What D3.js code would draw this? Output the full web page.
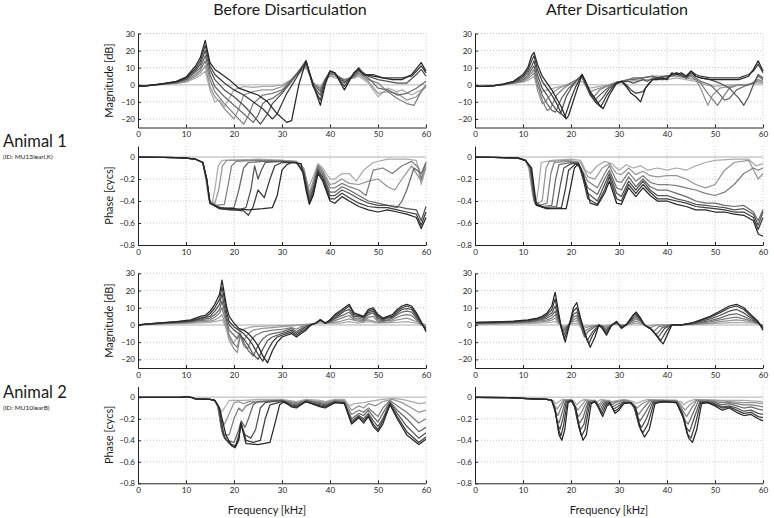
<!DOCTYPE html>
<html lang="en">
<head>
<meta charset="UTF-8">
<title>Before / After Disarticulation</title>
<script src="https://d3js.org/d3.v7.min.js"></script>
<style>
  body { margin: 0; background: #fff; }
  svg text { font-family: Lato, "Open Sans", "DejaVu Sans", sans-serif; fill: #1a1a1a; }
  .grid line { stroke: #b8b8b8; stroke-width: 0.8; stroke-dasharray: 1,2; }
  .axis path, .axis line { stroke: #222; stroke-width: 1; }
  .axis text { font-size: 8px; }
</style>
</head>
<body>
<svg id="chart" width="774" height="518"></svg>
<script>
// ---- labels / ticks ----
const columnTitles = ["Before Disarticulation", "After Disarticulation"];
const animalNames = ["Animal 1", "Animal 2"];
const animalIds = ["(ID: MU13leari,K)", "(ID: MU10learB)"];
const freqTicks = [0, 10, 20, 30, 40, 50, 60];
const magTicks = [30, 20, 10, 0, -10, -20];
const phaseTicks = [0, -0.2, -0.4, -0.6, -0.8];

// ---- curves: [kHz, value], darkest first ----
const a1BeforeMag = [
  [[0,-1],[2,-0.5],[5,0.5],[8,2],[10,4.5],[12,11],[13,16],[14,26],[15,13],[16,9],[17,7],[19,3],[21,-2],[23,-4],[25,-6],[27,-10],[29,-17],[31,-22],[32,-21],[33.5,0],[35,14],[36.5,0],[38,-12],[39,0],[40,8],[41,7],[43,-3],[45,7],[46,9],[47,6],[49,5],[51,4],[53,3],[55,3],[57,6],[59,13],[60,8]],
  [[0,-1],[2,-0.5],[5,0.5],[8,1.8],[10,4],[12,9.5],[13,14],[14,23],[15,11],[16,6],[18,1],[20,-3],[22,-6],[24,-10],[26,-14],[28,-20],[29,-17],[31,-5],[33,4],[35,14],[36.5,-1],[38,-9],[39,2],[40,8],[41,7],[43,-1],[45,7],[46,10],[47,6],[49,6],[51,4],[53,4],[55,4],[57,5],[59,11],[60,7]],
  [[0,-1],[2,-0.5],[5,0.5],[8,1.5],[10,3.5],[12,8.5],[13,12],[14,20],[15,9],[16,3],[18,-3],[20,-7],[22,-12],[24,-18],[25.5,-23],[27,-17],[28,-11],[30,-5],[32,2],[35,14],[36.5,-1],[38,-6],[39,3],[40,8],[41,7],[43,1],[45,6],[46,9],[48,5],[50,3],[52,2],[54,1],[56,1],[58,6],[59,9],[60,5]],
  [[0,-1],[2,-0.5],[5,0.4],[8,1.3],[10,3],[12,7.5],[13,10],[14,17],[15,6],[16,-1],[18,-7],[20,-12],[22,-17],[24,-22],[25,-18],[26,-11],[27,-9],[28,-8],[30,-4],[32,3],[35,13],[36.5,0],[38,-4],[39,3],[40,7],[41,6],[43,2],[45,5],[46,8],[48,4],[50,-2],[52,-3],[54,-6],[56,-5],[58,-2],[60,2]],
  [[0,-1],[2,-0.5],[5,0.3],[8,1.1],[10,2.5],[12,6],[13,8.5],[14,14],[15,3],[16,-4],[18,-11],[20,-17],[22,-23],[23,-18],[24,-11],[26,-6],[28,-5],[30,-3],[32,3],[35,12],[36.5,1],[38,-3],[39,3],[40,6],[41,6],[43,3],[45,5],[46,7],[48,3],[50,1],[52,-4],[54,-8],[56,-11],[57.5,-12],[59,-4],[60,0]],
  [[0,-1],[2,-0.5],[5,0.3],[8,1],[10,2],[12,5],[13,7],[14,11],[15,-1],[16,-7],[17,-10],[18,-14],[20,-20],[21,-14],[22,-6],[24,-4],[26,-3],[28,-3],[30,-1],[32,3],[35,11],[36.5,1],[38,-2],[39,3],[40,5],[41,5],[43,3],[45,4],[46,6],[48,2],[50,-5],[52,-4],[54,-5],[56,-9],[58,-7],[60,-1]],
  [[0,-1],[2,-0.5],[5,0.2],[8,0.8],[10,1.5],[12,4],[13,5.5],[14,8],[15,-3],[16,-10],[17,-9],[18,-13],[19,-8],[20,-3],[22,-1],[24,-1.5],[26,-1],[28,-1],[30,0],[32,3],[35,10],[36.5,1],[38,-1],[39,3],[40,5],[41,4],[43,3],[45,4],[46,5],[48,1],[50,-7],[52,-2],[54,-4],[55,-3],[57,-6],[59,-3],[60,-1]]
];

const a1BeforePhaseStart = [[0,0],[8,-0.005],[10,-0.01],[12,-0.02],[13.5,-0.05]];
const a1BeforePhase = [
  [...a1BeforePhaseStart,[14.3,-0.2],[15,-0.42],[17,-0.46],[20,-0.47],[23,-0.48],[26,-0.47],[28,-0.46],[29,-0.35],[30,-0.12],[31,-0.07],[32,-0.05],[34,-0.06],[35,-0.3],[35.7,-0.43],[36.5,-0.35],[37.5,-0.15],[38.5,-0.22],[40,-0.4],[41,-0.42],[42.5,-0.36],[44,-0.4],[46,-0.45],[48,-0.48],[50,-0.5],[52,-0.48],[54,-0.5],[56,-0.52],[58,-0.55],[59,-0.65],[60,-0.55]],
  [...a1BeforePhaseStart,[14.3,-0.2],[15,-0.42],[17,-0.47],[20,-0.48],[22,-0.49],[23,-0.53],[24,-0.45],[25,-0.3],[26.3,-0.37],[27.5,-0.2],[28.5,-0.08],[30,-0.05],[33,-0.05],[34.5,-0.15],[35.7,-0.42],[36.5,-0.33],[37.5,-0.13],[38.5,-0.2],[40,-0.38],[41,-0.38],[42.5,-0.33],[44,-0.37],[46,-0.42],[48,-0.45],[50,-0.46],[52,-0.46],[54,-0.48],[56,-0.5],[58,-0.52],[59,-0.62],[60,-0.5]],
  [...a1BeforePhaseStart,[14.3,-0.2],[15,-0.42],[17,-0.47],[19,-0.48],[21,-0.48],[22.5,-0.46],[23.5,-0.3],[24.3,-0.08],[25,-0.2],[25.7,-0.12],[26.5,-0.05],[30,-0.04],[33,-0.05],[34.5,-0.14],[35.7,-0.4],[36.5,-0.3],[37.5,-0.12],[38.5,-0.18],[40,-0.35],[41,-0.35],[42.5,-0.3],[44,-0.33],[46,-0.38],[48,-0.42],[50,-0.44],[52,-0.44],[54,-0.45],[56,-0.47],[58,-0.48],[59,-0.58],[60,-0.45]],
  [...a1BeforePhaseStart,[14.3,-0.2],[15,-0.42],[16.5,-0.45],[18,-0.47],[20,-0.46],[21,-0.3],[22,-0.1],[23,-0.05],[26,-0.04],[30,-0.04],[33,-0.05],[34.5,-0.13],[35.7,-0.38],[36.5,-0.28],[37.5,-0.1],[38.5,-0.16],[40,-0.32],[41,-0.32],[42.5,-0.27],[44,-0.3],[46,-0.35],[48,-0.4],[50,-0.42],[52,-0.44],[54,-0.46],[55,-0.4],[56,-0.3],[57.5,-0.1],[59,-0.15],[60,-0.05]],
  [...a1BeforePhaseStart,[14.3,-0.2],[15,-0.41],[16.5,-0.44],[18,-0.43],[18.8,-0.25],[19.5,-0.08],[20.5,-0.04],[25,-0.03],[30,-0.04],[33,-0.05],[34.5,-0.12],[35.7,-0.35],[36.5,-0.25],[37.5,-0.08],[38.5,-0.14],[40,-0.28],[41,-0.28],[42.5,-0.24],[44,-0.27],[46,-0.3],[47.5,-0.35],[49,-0.12],[51,-0.1],[53,-0.15],[55,-0.08],[57,-0.04],[58.5,-0.1],[59,-0.2],[60,-0.05]],
  [...a1BeforePhaseStart,[14.2,-0.2],[14.9,-0.41],[16,-0.42],[16.8,-0.3],[17.6,-0.08],[18.5,-0.03],[25,-0.03],[30,-0.03],[33,-0.04],[34.5,-0.1],[35.7,-0.32],[36.5,-0.22],[37.5,-0.07],[38.5,-0.12],[40,-0.25],[41,-0.24],[42.5,-0.2],[44,-0.24],[46,-0.25],[48,-0.22],[50,-0.2],[52,-0.27],[53.5,-0.3],[55,-0.2],[57,-0.08],[59,-0.22],[60,-0.1]],
  [...a1BeforePhaseStart,[14.1,-0.2],[14.8,-0.4],[15.5,-0.41],[16,-0.3],[16.7,-0.08],[17.5,-0.03],[25,-0.02],[30,-0.03],[33,-0.04],[34.5,-0.1],[35.5,-0.28],[36.5,-0.18],[37.5,-0.06],[38.5,-0.1],[40,-0.2],[41,-0.2],[42.5,-0.15],[44,-0.15],[45.5,-0.22],[47,-0.12],[49,-0.05],[52,-0.02],[56,-0.02],[58,-0.03],[59,-0.25],[60,-0.08]]
];

const a1AfterMag = [
  [[0,-1],[2,-1],[4,-0.5],[6,0.5],[8,2],[10,6],[11,10],[11.8,17],[12.3,19],[13,12],[14,5],[15,1],[16,-3],[17,-8],[18,-13],[19,-20],[19.5,-18],[21,-5],[22.3,6],[23,2],[24,-4],[25,-8],[26,-12],[26.7,-14],[28,-6],[29.5,1],[30.5,2],[31.5,-1],[32.5,-5],[33.5,-7],[34.5,-10],[35.5,-2],[37,3],[38,3],[39,4],[40,3],[41,7],[42,6],[43,7],[44,5],[45,8],[46,5],[47,4],[49,3],[51,3],[53,3],[55,3],[57,5],[58,9],[59,14],[60,8]],
  [[0,-1],[2,-1],[4,-0.5],[6,0.4],[8,1.8],[10,5],[11,8.5],[11.8,14],[12.3,17],[13,9],[14,2],[15,-2],[16,-6],[17,-11],[18,-17],[18.7,-19],[20,-8],[21,-1],[22.3,6],[23,2],[24,-5],[25,-10],[26.2,-13],[27.5,-6],[29,0],[30.5,2],[31.5,0],[32.5,-3],[33.5,-5],[35,-4],[36,0],[37,3],[38,4],[39,3],[40,4],[41,6],[42,7],[43,6],[44,5],[45,8],[46,6],[47,5],[49,4],[51,4],[53,4],[55,4],[57,6],[58,8],[59,12],[60,7]],
  [[0,-1],[2,-1],[4,-0.5],[6,0.3],[8,1.5],[10,4],[11,7],[11.8,11],[12.3,14],[13,6],[14,-2],[15,-6],[16,-11],[17,-15],[17.8,-17],[19,-7],[20,-2],[21,2],[22.3,6],[23,1],[24,-6],[25.5,-11],[26.5,-8],[28,-2],[29.5,1],[30.5,2],[32,2],[33,1],[35,3],[36,2],[37,4],[38,4],[40,5],[41,6],[42,7],[44,4],[45,7],[46,5],[47,4],[49,3],[51,1],[53,-2],[55,-8],[56,-12],[57,-7],[58,0],[59,6],[60,4]],
  [[0,-1],[2,-1],[4,-0.5],[6,0.2],[8,1.3],[10,3],[11,5.5],[11.8,9],[12.3,11],[13,3],[14,-6],[15,-11],[16,-15],[16.8,-16],[18,-8],[19.5,-2],[21,2],[22.3,5.5],[23,0],[24,-6],[25,-9],[26,-6],[28,-1],[29.5,1.5],[30.5,2],[32,3],[33,3],[35,4],[37,5],[38,4],[40,5],[41,5],[42,6],[44,4],[45,6],[46,4],[47,2],[49,0],[50.5,-4],[52,-9],[53,-8],[54.5,-3],[56,-1],[58,1],[59,5],[60,3]],
  [[0,-1],[2,-1],[4,-0.5],[6,0.2],[8,1.1],[10,2.5],[11,4.5],[11.8,7],[12.3,9],[13,0],[14,-9],[15,-15],[15.7,-14],[17,-6],[18.5,-2],[20,1],[22.3,5],[23,0],[24,-5],[24.8,-7],[26,-3],[28,0],[29.5,1.5],[30.5,2],[32,3],[33,4],[35,4],[37,5],[38,4],[40,5],[42,6],[44,4],[45,5],[46,3],[47,1],[48.5,-5],[50.5,-12],[51.5,-8],[53,-2],[55,0],[57,0],[59,3],[60,2]],
  [[0,-1],[2,-1],[4,-0.5],[6,0.1],[8,1],[10,2],[11,3.5],[11.8,5.5],[12.3,7],[13,-3],[14,-11],[14.6,-10],[16,-5],[17.5,-2],[19,0],[22.3,4],[23,0],[24,-4],[25,-3],[27,-1],[29.5,1],[30.5,2],[32,3],[33,4],[35,4],[37,5],[40,5],[42,5],[44,4],[46,3],[47,-2],[48.5,-12],[49.5,-6],[51,-2],[53,-1],[55,0],[57,0],[59,2],[60,1]],
  [[0,-1],[2,-1],[4,-0.5],[6,0],[8,0.8],[10,1.5],[11,2.5],[11.8,4],[12.3,5],[13,-1],[14,-4],[15,-3],[17,-1.5],[19,-0.5],[22.3,2],[23,0],[24,-2],[26,-1],[28,0],[30,1],[32,2],[35,3],[37,3],[40,3],[42,4],[44,3],[46,2],[48,0],[50,-1],[53,0],[56,0],[58,1],[60,1]]
];

const a1AfterPhaseStart = [[0,0],[6,-0.005],[9,-0.01],[10.5,-0.03]];
const a1AfterPhase = [
  [...a1AfterPhaseStart,[11.8,-0.1],[12.8,-0.44],[15,-0.47],[19,-0.47],[19.8,-0.3],[20.7,-0.1],[21.5,-0.06],[22.5,-0.15],[24,-0.42],[25.5,-0.44],[27,-0.33],[28,-0.22],[29.5,-0.42],[30.5,-0.43],[32,-0.28],[33.5,-0.36],[35,-0.28],[36.5,-0.35],[38,-0.4],[40,-0.4],[42,-0.43],[44,-0.45],[46,-0.48],[48,-0.48],[50,-0.5],[52,-0.5],[54,-0.52],[56,-0.53],[58,-0.58],[59,-0.7],[60,-0.72]],
  [...a1AfterPhaseStart,[11.7,-0.1],[12.6,-0.43],[15,-0.47],[18,-0.46],[18.8,-0.3],[19.5,-0.12],[21,-0.06],[22,-0.1],[23.5,-0.38],[25.5,-0.43],[27,-0.3],[28,-0.18],[29.5,-0.38],[30.5,-0.4],[32,-0.25],[33.5,-0.33],[35,-0.25],[36.5,-0.32],[38,-0.38],[40,-0.38],[42,-0.4],[44,-0.42],[46,-0.45],[48,-0.46],[50,-0.47],[52,-0.48],[54,-0.5],[56,-0.5],[58,-0.55],[59,-0.66],[60,-0.55]],
  [...a1AfterPhaseStart,[11.6,-0.1],[12.5,-0.42],[14.5,-0.46],[17,-0.45],[17.8,-0.25],[18.5,-0.1],[20,-0.06],[21.5,-0.06],[23.5,-0.33],[25.5,-0.4],[27,-0.25],[28,-0.15],[29.5,-0.33],[30.5,-0.36],[32,-0.22],[33.5,-0.3],[35,-0.22],[36.5,-0.3],[38,-0.35],[40,-0.35],[42,-0.38],[44,-0.4],[46,-0.43],[48,-0.44],[50,-0.45],[52,-0.46],[54,-0.48],[56,-0.47],[58,-0.52],[59,-0.62],[60,-0.5]],
  [...a1AfterPhaseStart,[11.5,-0.1],[12.4,-0.4],[14,-0.45],[16,-0.44],[16.8,-0.2],[17.5,-0.07],[20,-0.05],[21.5,-0.05],[23.5,-0.28],[25.5,-0.34],[27,-0.2],[28,-0.12],[29.5,-0.28],[30.5,-0.3],[32,-0.18],[33.5,-0.27],[35,-0.2],[36.5,-0.27],[38,-0.3],[40,-0.3],[42,-0.33],[44,-0.36],[46,-0.4],[48,-0.42],[50,-0.42],[52,-0.44],[54,-0.45],[56,-0.44],[58,-0.5],[59,-0.58],[60,-0.48]],
  [...a1AfterPhaseStart,[11.4,-0.1],[12.3,-0.4],[13.5,-0.44],[15,-0.42],[15.8,-0.15],[16.5,-0.05],[20,-0.04],[21.5,-0.05],[23.5,-0.22],[25.5,-0.28],[27,-0.15],[28,-0.08],[29.5,-0.22],[30.5,-0.23],[32,-0.14],[33.5,-0.22],[35,-0.17],[36.5,-0.23],[38,-0.25],[40,-0.25],[42,-0.26],[44,-0.28],[46,-0.3],[48,-0.33],[50,-0.35],[52,-0.32],[54,-0.25],[56,-0.15],[58,-0.1],[59,-0.12],[60,-0.1]],
  [...a1AfterPhaseStart,[11.3,-0.1],[12.2,-0.38],[13,-0.42],[14,-0.4],[14.8,-0.1],[15.5,-0.04],[19,-0.03],[21,-0.04],[22,-0.05],[23.5,-0.18],[25,-0.2],[26.5,-0.1],[28,-0.06],[29.5,-0.15],[30.5,-0.16],[32,-0.1],[33.5,-0.16],[35,-0.13],[36.5,-0.17],[38,-0.18],[40,-0.17],[42,-0.17],[44,-0.2],[46,-0.25],[48,-0.28],[50,-0.25],[52,-0.12],[54,-0.05],[57,-0.03],[59,-0.2],[60,-0.15]],
  [...a1AfterPhaseStart,[11.2,-0.1],[12,-0.35],[12.8,-0.4],[13.3,-0.25],[13.8,-0.05],[16,-0.03],[20,-0.02],[22,-0.03],[23,-0.12],[24,-0.15],[25.5,-0.08],[27,-0.04],[28.5,-0.06],[30,-0.12],[31.5,-0.07],[33,-0.1],[34.5,-0.08],[36,-0.12],[38,-0.1],[40,-0.12],[42,-0.1],[44,-0.12],[46,-0.08],[48,-0.05],[50,-0.03],[54,-0.02],[57,-0.02],[58.5,-0.08],[60,-0.06]]
];

const a2BeforeMag = [
  [[0,0],[4,1],[8,2],[11,3],[13,5],[14,5.5],[15,8],[16,12],[17,18],[17.5,26],[18,18],[18.5,10],[19,5],[20,1],[21,-2],[22,-3],[23,-5],[24,-8],[25,-12],[26,-18],[27,-22],[28,-15],[29,-10],[30,-7],[31,-6],[32,-5],[33,-7],[34,-5],[35,-3],[36,0],[37,1],[38,3],[39,1],[40,3],[41,6],[42,8],[43,10],[44,12],[45,7],[46,6],[47,5],[48,9],[49,10],[50,6],[51,4],[52,5],[53,6],[54,9],[55,11],[56,12],[57,11],[58,7],[59,2],[60,-4]],
  [[0,0],[4,1],[8,1.8],[11,2.5],[13,4],[14,4.5],[15,6.5],[16,10],[17,15],[17.5,22],[18,15],[18.5,7],[19,2],[20,-1],[21,-3],[22,-5],[23,-8],[24,-12],[25,-17],[26,-21],[27,-15],[28,-10],[29,-7],[30,-6],[31,-5],[32,-4],[33,-6],[34,-4],[35,-2],[36,0],[37,1],[38,3],[39,1],[40,2.5],[41,5],[42,7],[43,9],[44,11],[45,6],[46,5.5],[47,4.5],[48,8],[49,9],[50,5],[51,3.5],[52,4.5],[53,5],[54,8],[55,10],[56,11],[57,10],[58,6],[59,1],[60,-3]],
  [[0,0],[4,0.9],[8,1.6],[11,2.2],[13,3.5],[15,5],[16,8],[17,12],[17.5,18],[18,11],[18.5,4],[19,0],[20,-3],[21,-5],[22,-8],[23,-12],[24,-17],[25,-20],[26,-14],[27,-9],[28,-7],[29,-6],[30,-5],[31,-4],[32,-3],[33,-5],[34,-3],[35,-1],[36,0],[37,1],[38,3],[39,1],[40,2],[41,4],[42,6],[43,8],[44,9],[45,5],[46,5],[47,4],[48,7],[49,8],[50,4],[51,3],[52,4],[53,4.5],[54,7],[55,9],[56,9.5],[57,9],[58,5],[59,1],[60,-2]],
  [[0,0],[4,0.8],[8,1.4],[11,2],[13,3],[15,4],[16,6],[17,9],[17.5,14],[18,8],[18.5,2],[19,-3],[20,-6],[20.7,-8],[21.3,-5],[22,-10],[23,-15],[24,-18],[25,-12],[26,-8],[27,-6],[28,-5],[30,-4],[32,-2],[33,-4],[34,-2],[35,-1],[36,0],[37,1],[38,3],[39,1],[40,2],[41,3.5],[42,5],[43,6],[44,7.5],[45,4],[46,4],[47,3],[48,6],[49,7],[50,3],[51,2.5],[52,3],[53,4],[54,6],[55,7.5],[56,8],[57,7.5],[58,4],[59,0.5],[60,-2]],
  [[0,0],[4,0.7],[8,1.2],[11,1.7],[13,2.5],[15,3],[16,4.5],[17,7],[17.5,10],[18,5],[18.5,0],[19,-6],[20,-11],[20.7,-13],[21.3,-6],[22,-12],[22.8,-14],[23.5,-9],[24.5,-6],[26,-4],[28,-3],[30,-2.5],[32,-1.5],[33,-2.5],[34,-1],[36,0],[37,1],[38,2.5],[39,1],[40,1.5],[41,2.5],[42,3.5],[43,4.5],[44,5.5],[45,3],[46,3],[47,2],[48,4.5],[49,5],[50,2],[51,2],[52,2.5],[53,3],[54,4.5],[55,5.5],[56,6],[57,5.5],[58,3],[59,0],[60,-1]],
  [[0,0],[4,0.6],[8,1],[11,1.4],[13,2],[15,2.2],[16,3],[17,4.5],[17.5,6],[18,2],[18.5,-3],[19,-9],[20,-14],[20.7,-16],[21.3,-6],[22,-9],[23,-5],[24,-3],[26,-2],[28,-1.5],[30,-1],[32,-0.5],[34,0],[36,0.5],[38,2],[40,1],[42,2],[44,3.5],[46,2],[48,3],[50,1.5],[52,1.5],[54,3],[56,4],[58,2],[60,0]],
  [[0,0],[4,0.5],[8,0.8],[11,1],[13,1.2],[15,1.5],[16,2],[17,2.5],[17.5,3],[18,0.5],[18.5,-3],[19,-7],[19.7,-11],[20.3,-9],[21,-5],[21.5,-3],[22.5,-2],[24,-1],[28,-0.5],[34,0],[38,1],[42,1],[44,2],[46,1],[48,2],[50,1],[54,1.5],[56,2],[58,1],[60,0]]
];

const a2BeforePhaseStart = [[0,0],[9,0],[10,0.006],[11,0],[12,-0.015],[15,-0.02],[16,-0.03]];
const a2BeforePhase = [
  [...a2BeforePhaseStart,[17,-0.1],[18.3,-0.35],[19.5,-0.45],[20.2,-0.47],[21,-0.4],[21.4,-0.24],[22.5,-0.43],[25,-0.44],[27.5,-0.42],[28.5,-0.25],[29.5,-0.07],[30.5,-0.04],[32,-0.09],[33,-0.1],[35,-0.04],[38,-0.09],[39,-0.1],[41,-0.05],[43,-0.06],[44.5,-0.25],[46,-0.19],[47,-0.24],[48,-0.18],[49,-0.27],[50,-0.32],[51,-0.25],[52.5,-0.07],[54,-0.2],[56,-0.35],[58.5,-0.44],[60,-0.39]],
  [...a2BeforePhaseStart,[16.9,-0.1],[18,-0.38],[19.5,-0.45],[20.3,-0.46],[21,-0.38],[21.5,-0.24],[22.5,-0.4],[24,-0.42],[25.5,-0.4],[26.5,-0.2],[27.5,-0.07],[30,-0.04],[32,-0.08],[33,-0.09],[35,-0.04],[38,-0.08],[39,-0.09],[41,-0.05],[43,-0.05],[44.5,-0.24],[46,-0.18],[47,-0.22],[48,-0.17],[49,-0.25],[50,-0.3],[51,-0.22],[52.5,-0.06],[54,-0.18],[56,-0.32],[58.5,-0.42],[60,-0.37]],
  [...a2BeforePhaseStart,[16.8,-0.09],[17.7,-0.35],[19,-0.43],[20.3,-0.45],[21,-0.35],[21.5,-0.25],[22.3,-0.35],[23.5,-0.38],[24.5,-0.3],[25.5,-0.1],[26.5,-0.05],[30,-0.03],[32,-0.07],[33,-0.08],[35,-0.04],[38,-0.07],[39,-0.08],[41,-0.04],[43,-0.05],[44.5,-0.22],[46,-0.17],[47,-0.2],[48,-0.15],[49,-0.22],[50,-0.27],[51,-0.2],[52.5,-0.05],[54,-0.15],[56,-0.27],[58.5,-0.38],[60,-0.33]],
  [...a2BeforePhaseStart,[16.7,-0.08],[17.5,-0.32],[18.5,-0.4],[20,-0.42],[21,-0.3],[21.5,-0.22],[22.3,-0.28],[23,-0.2],[24,-0.07],[25,-0.04],[30,-0.03],[32,-0.06],[33,-0.07],[35,-0.03],[38,-0.06],[39,-0.07],[41,-0.04],[43,-0.05],[44.5,-0.2],[46,-0.15],[47,-0.17],[48,-0.12],[49,-0.18],[50,-0.23],[51,-0.15],[52.5,-0.04],[54,-0.12],[56,-0.2],[58.5,-0.32],[60,-0.28]],
  [...a2BeforePhaseStart,[16.6,-0.08],[17.3,-0.28],[18,-0.35],[19,-0.35],[20,-0.2],[21,-0.1],[21.7,-0.13],[22.5,-0.08],[24,-0.05],[30,-0.03],[32,-0.05],[33,-0.06],[35,-0.03],[38,-0.05],[39,-0.06],[41,-0.03],[43,-0.04],[44.5,-0.16],[46,-0.12],[47,-0.14],[48,-0.1],[49,-0.14],[50,-0.18],[51,-0.1],[52.5,-0.03],[54,-0.08],[56,-0.14],[58.5,-0.24],[60,-0.2]],
  [...a2BeforePhaseStart,[16.5,-0.07],[17.2,-0.2],[18,-0.25],[19,-0.15],[20,-0.05],[21,-0.04],[22,-0.06],[23,-0.04],[30,-0.03],[32,-0.04],[33,-0.05],[35,-0.03],[38,-0.04],[39,-0.05],[41,-0.03],[43,-0.03],[44.5,-0.12],[46,-0.08],[47,-0.1],[48,-0.06],[49.5,-0.08],[51,-0.04],[53,-0.02],[55,-0.05],[57,-0.1],[58.5,-0.14],[60,-0.12]],
  [...a2BeforePhaseStart,[16.5,-0.06],[17.3,-0.14],[18,-0.1],[19,-0.03],[22,-0.03],[25,-0.02],[30,-0.02],[33,-0.04],[35,-0.02],[38,-0.03],[39,-0.04],[41,-0.02],[43,-0.02],[44,-0.08],[45,-0.06],[47,-0.05],[48,-0.04],[49.5,-0.03],[51,-0.02],[53,-0.01],[55,-0.02],[57,-0.04],[58.5,-0.06],[60,-0.05]]
];

const a2AfterMag = [
  [[0,1.5],[4,1.8],[8,2.2],[11,3],[13,4],[14,5],[15,7],[16,11],[16.7,19],[17.3,9],[18,-2],[18.8,-10],[19.5,-2],[20.5,10],[21.2,13],[22,4],[23,-6],[24,-13],[25,-7],[25.8,0],[26.5,-2],[27.4,-6],[28.5,0],[29.5,2],[30.5,-2],[31.5,0],[33,6],[33.6,7.5],[34.5,4],[35.3,0],[36.5,-2],[37.5,-5],[38.5,-9],[39.2,-11],[40.5,-3],[41,0],[43,0],[45,1],[47,3],[49,5],[51,8],[53,11],[54.5,12],[56,10],[57.5,6],[59,2],[60,-3]],
  [[0,1.4],[4,1.6],[8,2],[11,2.7],[13,3.6],[14,4.3],[15,6],[16,9],[16.7,15],[17.3,7],[18,-2],[18.6,-8],[19.5,-1],[20.5,8],[21.2,10],[22,3],[23,-6],[23.7,-11],[24.5,-6],[25.8,0],[26.5,-1.5],[27.3,-5],[28.5,0],[29.5,2],[30.5,-1.5],[31.5,0],[33,5.5],[33.6,6.5],[34.5,3.5],[35.3,0],[36.5,-2],[37.5,-5],[38.7,-9],[40,-3],[41,0],[43,0],[45,1],[47,2.5],[49,4.5],[51,7],[53,10],[54.5,11],[56,9],[57.5,5],[59,1.5],[60,-2]],
  [[0,1.2],[4,1.4],[8,1.8],[11,2.4],[13,3.2],[14,3.7],[15,5],[16,7],[16.7,11],[17.3,5],[18,-1.5],[18.5,-6],[19.5,0],[20.5,6],[21.2,7.5],[22,2],[23,-6],[23.4,-9],[24.5,-4],[25.8,0],[26.5,-1],[27.2,-4],[28.5,0],[29.5,1.5],[30.5,-1],[31.5,0],[33,4.5],[33.6,5.5],[34.5,3],[35.3,0],[36.5,-2],[37.5,-5],[38.2,-7],[39.5,-2],[41,0],[43,0],[45,0.8],[47,2],[49,3.5],[51,5.5],[53,8],[54.5,9],[56,7],[57.5,4],[59,1],[60,-1.5]],
  [[0,1],[4,1.2],[8,1.5],[11,2],[13,2.7],[14,3.2],[15,4],[16,5.5],[16.7,8],[17.3,3.5],[18,-1],[18.4,-4],[19.5,0],[20.5,4.5],[21.2,5.5],[22,1],[22.8,-7],[23.5,-4],[25,-1],[25.8,0],[26.5,-0.8],[27.2,-3],[28.5,0],[29.5,1.2],[30.5,-0.8],[31.5,0],[33,3.5],[33.6,4.5],[34.5,2.5],[35.3,0],[36.5,-2],[37.5,-5],[38,-5],[39,-1.5],[41,0],[43,0],[45,0.6],[47,1.5],[49,2.5],[51,4],[53,6],[54.5,6.5],[56,5],[57.5,3],[59,1],[60,-1]],
  [[0,0.8],[4,1],[8,1.2],[11,1.6],[13,2.2],[14,2.5],[15,3],[16,4],[16.7,6],[17.3,2.5],[18,-0.5],[18.4,-3],[19.5,0],[20.5,3],[21.2,4],[22,0],[22.5,-5],[23.2,-3],[25,-0.5],[26.5,-0.5],[27.2,-2],[28.5,0],[29.5,1],[30.5,-0.5],[31.5,0],[33,2.5],[33.6,3.5],[34.5,2],[35.3,0],[36.5,-2],[37.3,-3.5],[38.3,-1],[41,0],[45,0.4],[49,1.8],[51,3],[53,4],[54.5,4.5],[56,3.5],[58,2],[60,-0.5]],
  [[0,0.6],[4,0.8],[8,1],[11,1.3],[13,1.7],[15,2.2],[16,2.8],[16.7,4],[17.3,1.5],[18,0],[18.4,-2],[19.5,0],[20.5,2],[21.2,2.5],[22,0],[22.3,-3],[23,-1.5],[25,-0.3],[27.2,-1],[28.5,0],[29.5,0.8],[30.5,-0.3],[31.5,0],[33,1.5],[33.6,2.2],[34.5,1.2],[35.3,0],[36.3,-2],[37,-1],[38,0],[45,0.3],[49,1],[51,2],[53,2.5],[54.5,3],[56,2.5],[58,1.5],[60,0]],
  [[0,0.4],[8,0.6],[13,1],[15,1.3],[16,1.6],[16.7,2],[17.3,0.8],[18.4,-1],[19.5,0],[21.2,1],[22.2,-1.5],[23,-0.5],[27,-0.5],[29.5,0.5],[31.5,0],[33.6,1],[35.3,0],[36,-1],[37,0],[45,0.2],[51,1],[54.5,1.5],[58,1],[60,0]]
];

const a2AfterPhaseStart = [[0,0],[8,-0.005],[12,-0.015],[15,-0.02]];
const a2AfterPhase = [
  [...a2AfterPhaseStart,[16,-0.03],[16.8,-0.15],[17.5,-0.35],[18.1,-0.4],[18.7,-0.3],[19.4,-0.05],[20.2,-0.03],[21,-0.1],[21.8,-0.3],[22.5,-0.4],[23.2,-0.35],[24.2,-0.06],[25,-0.04],[25.8,-0.1],[26.6,-0.18],[27.5,-0.08],[28.2,-0.06],[29.2,-0.15],[30,-0.12],[31,-0.06],[32.5,-0.05],[33.5,-0.1],[34.5,-0.3],[35.3,-0.37],[36.3,-0.3],[37.5,-0.06],[39,-0.04],[42,-0.05],[43.5,-0.2],[44.5,-0.38],[45.3,-0.42],[46.2,-0.3],[47.2,-0.06],[48.5,-0.05],[50,-0.08],[51.5,-0.12],[53,-0.1],[54.5,-0.14],[56,-0.17],[57.5,-0.16],[59,-0.2],[60,-0.22]],
  [...a2AfterPhaseStart,[16,-0.03],[16.7,-0.12],[17.4,-0.3],[17.9,-0.36],[18.5,-0.25],[19.2,-0.05],[20.1,-0.03],[20.9,-0.1],[21.6,-0.27],[22.2,-0.36],[22.9,-0.3],[23.9,-0.06],[25,-0.04],[25.7,-0.09],[26.4,-0.16],[27.3,-0.07],[28.1,-0.05],[29,-0.13],[29.8,-0.11],[31,-0.05],[32.4,-0.05],[33.3,-0.1],[34.2,-0.27],[35,-0.33],[36,-0.25],[37.3,-0.05],[39,-0.04],[42,-0.05],[43.3,-0.18],[44.2,-0.34],[45,-0.38],[45.9,-0.25],[47,-0.05],[48.5,-0.05],[50,-0.07],[51.5,-0.1],[53,-0.09],[54.5,-0.12],[56,-0.15],[57.5,-0.14],[59,-0.18],[60,-0.19]],
  [...a2AfterPhaseStart,[16,-0.03],[16.6,-0.1],[17.2,-0.25],[17.7,-0.3],[18.3,-0.2],[19,-0.04],[20,-0.03],[20.8,-0.09],[21.4,-0.23],[22,-0.3],[22.7,-0.25],[23.7,-0.05],[25,-0.04],[25.6,-0.08],[26.2,-0.14],[27.1,-0.06],[28,-0.05],[28.8,-0.11],[29.6,-0.09],[31,-0.05],[32.3,-0.05],[33.1,-0.09],[34,-0.23],[34.7,-0.28],[35.7,-0.2],[37,-0.05],[39,-0.04],[42,-0.05],[43.2,-0.15],[44,-0.28],[44.7,-0.32],[45.6,-0.2],[46.8,-0.05],[48.5,-0.04],[50,-0.06],[51.5,-0.09],[53,-0.08],[54.5,-0.1],[56,-0.13],[57.5,-0.12],[59,-0.15],[60,-0.16]],
  [...a2AfterPhaseStart,[16,-0.03],[16.5,-0.08],[17,-0.2],[17.5,-0.24],[18.1,-0.15],[18.8,-0.04],[20,-0.03],[20.7,-0.08],[21.2,-0.19],[21.8,-0.24],[22.5,-0.19],[23.5,-0.05],[25,-0.04],[25.5,-0.07],[26,-0.12],[26.9,-0.05],[28,-0.04],[28.6,-0.09],[29.4,-0.07],[31,-0.04],[32.2,-0.05],[33,-0.08],[33.8,-0.18],[34.4,-0.22],[35.4,-0.15],[36.8,-0.04],[39,-0.03],[42,-0.04],[43,-0.12],[43.8,-0.22],[44.4,-0.25],[45.3,-0.16],[46.5,-0.04],[48.5,-0.04],[50,-0.05],[51.5,-0.07],[53,-0.06],[54.5,-0.08],[56,-0.1],[57.5,-0.09],[59,-0.11],[60,-0.12]],
  [...a2AfterPhaseStart,[16,-0.03],[16.4,-0.07],[16.9,-0.14],[17.3,-0.17],[17.9,-0.1],[18.6,-0.03],[20,-0.03],[20.6,-0.06],[21.1,-0.14],[21.6,-0.18],[22.3,-0.13],[23.3,-0.04],[25,-0.03],[25.4,-0.05],[25.9,-0.09],[26.7,-0.04],[28,-0.04],[28.5,-0.07],[29.2,-0.05],[31,-0.03],[32.1,-0.04],[32.8,-0.07],[33.6,-0.13],[34.1,-0.16],[35.1,-0.1],[36.5,-0.03],[39,-0.03],[42,-0.03],[42.9,-0.09],[43.6,-0.15],[44.1,-0.18],[45,-0.11],[46.2,-0.03],[48.5,-0.03],[50,-0.04],[51.5,-0.05],[53,-0.05],[54.5,-0.06],[56,-0.07],[57.5,-0.07],[59,-0.08],[60,-0.09]],
  [...a2AfterPhaseStart,[16,-0.03],[16.3,-0.05],[16.8,-0.09],[17.1,-0.11],[17.7,-0.07],[18.4,-0.03],[20,-0.02],[20.5,-0.05],[21,-0.09],[21.4,-0.12],[22.1,-0.08],[23,-0.03],[25,-0.03],[25.8,-0.07],[26.5,-0.03],[28,-0.03],[28.4,-0.05],[29,-0.04],[31,-0.03],[32,-0.03],[32.7,-0.05],[33.4,-0.08],[33.8,-0.1],[34.8,-0.06],[36.2,-0.03],[42,-0.03],[42.8,-0.06],[43.4,-0.1],[43.8,-0.12],[44.7,-0.07],[46,-0.03],[50,-0.03],[53,-0.04],[56,-0.05],[58,-0.05],[60,-0.06]],
  [...a2AfterPhaseStart,[16.3,-0.03],[16.9,-0.06],[17.5,-0.04],[18.2,-0.02],[20.5,-0.03],[21.2,-0.07],[21.9,-0.04],[22.8,-0.02],[25.5,-0.04],[26.3,-0.02],[28.5,-0.04],[31,-0.02],[33,-0.04],[33.5,-0.06],[34.5,-0.04],[36,-0.02],[43,-0.04],[43.5,-0.07],[44.4,-0.04],[45.8,-0.02],[52,-0.03],[56,-0.03],[60,-0.04]]
];

// ---- layout ----
const svg = d3.select("#chart");
const colX = [[138, 426], [475, 763]];
const rows = [
  { top: 33.5, bottom: 127.5, domain: [-25, 30], ticks: magTicks, label: "Magnitude [dB]" },
  { top: 146, bottom: 245, domain: [-0.8, 0.1], ticks: phaseTicks, label: "Phase [cycs]" },
  { top: 273.3, bottom: 368, domain: [-25, 30], ticks: magTicks, label: "Magnitude [dB]" },
  { top: 386.5, bottom: 483.3, domain: [-0.8, 0.1], ticks: phaseTicks, label: "Phase [cycs]" }
];
const panels = [
  { data: a1BeforeMag, row: 0, col: 0 }, { data: a1AfterMag, row: 0, col: 1 },
  { data: a1BeforePhase, row: 1, col: 0 }, { data: a1AfterPhase, row: 1, col: 1 },
  { data: a2BeforeMag, row: 2, col: 0 }, { data: a2AfterMag, row: 2, col: 1 },
  { data: a2BeforePhase, row: 3, col: 0 }, { data: a2AfterPhase, row: 3, col: 1 }
];

const fmtMag = d3.format("d");
const fmtPhase = d => d === 0 ? "0" : d3.format(".1f")(d);

panels.forEach(p => {
  const row = rows[p.row];
  const xr = colX[p.col];
  const x = d3.scaleLinear().domain([0, 60]).range(xr);
  const y = d3.scaleLinear().domain(row.domain).range([row.bottom, row.top]);
  const g = svg.append("g");

  // dotted grid
  const grid = g.append("g").attr("class", "grid");
  grid.selectAll(".h").data(row.ticks.filter(t => t !== row.domain[0])).join("line")
    .attr("x1", xr[0]).attr("x2", xr[1])
    .attr("y1", d => y(d)).attr("y2", d => y(d));
  grid.selectAll(".v").data(freqTicks.slice(1)).join("line")
    .attr("x1", d => x(d)).attr("x2", d => x(d))
    .attr("y1", y(row.domain[1])).attr("y2", row.bottom);

  const line = d3.line().x(d => x(d[0])).y(d => y(d[1]));
  const shade = d3.scaleLinear().domain([0, p.data.length - 1]).range(["#262626", "#ababab"]);

  // reference curve at zero
  g.append("path").attr("d", line([[0, 0], [60, 0]]))
    .attr("fill", "none").attr("stroke", "#cdcdcd").attr("stroke-width", 1.4);

  g.selectAll(".curve").data(p.data.map((c, i) => ({ c, i })).reverse()).join("path")
    .attr("d", d => line(d.c))
    .attr("fill", "none")
    .attr("stroke", d => shade(d.i))
    .attr("stroke-width", 1.25)
    .attr("stroke-linejoin", "round");

  // axes
  const yAxis = d3.axisLeft(y).tickValues(row.ticks).tickSize(-3).tickSizeOuter(0).tickPadding(3)
    .tickFormat(p.row % 2 === 0 ? fmtMag : fmtPhase);
  g.append("g").attr("class", "axis").attr("transform", `translate(${xr[0]},0)`).call(yAxis);
  const xAxis = d3.axisBottom(x).tickValues(freqTicks).tickSize(-3).tickSizeOuter(0).tickPadding(4);
  g.append("g").attr("class", "axis").attr("transform", `translate(0,${row.bottom})`).call(xAxis);

  if (p.col === 0) {
    svg.append("text")
      .attr("transform", `translate(113,${(row.top + row.bottom) / 2}) rotate(-90)`)
      .attr("text-anchor", "middle").attr("font-size", 11)
      .text(row.label);
  }
});

// column titles
svg.selectAll(".title").data(columnTitles).join("text")
  .attr("x", (d, i) => i === 0 ? 290 : 617).attr("y", 15)
  .attr("text-anchor", "middle").attr("font-size", 16)
  .text(d => d);

// animal labels
svg.selectAll(".animal").data(animalNames).join("text")
  .attr("x", 3).attr("y", (d, i) => i === 0 ? 147 : 398)
  .attr("font-size", 16.5).text(d => d);
svg.selectAll(".animalId").data(animalIds).join("text")
  .attr("x", 3).attr("y", (d, i) => i === 0 ? 158.5 : 409.5)
  .attr("font-size", 6.5).text(d => d);

// x labels
[267, 609].forEach(cx => {
  svg.append("text").attr("x", cx).attr("y", 514)
    .attr("text-anchor", "middle").attr("font-size", 11).text("Frequency [kHz]");
});
</script>
</body>
</html>
